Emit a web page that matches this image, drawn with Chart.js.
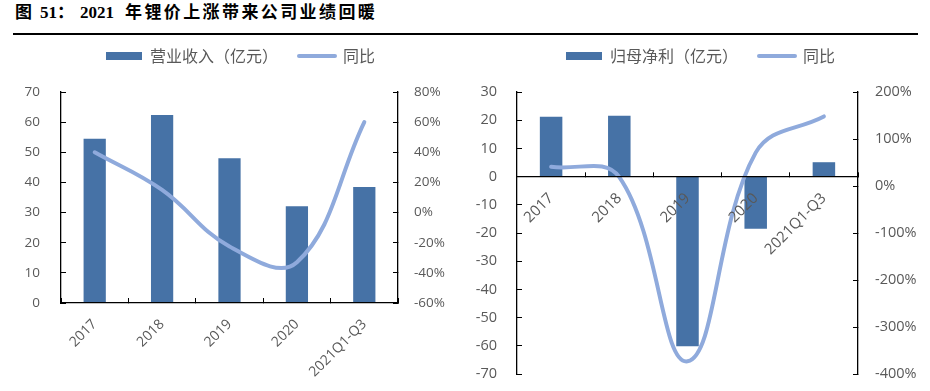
<!DOCTYPE html>
<html><head><meta charset="utf-8">
<script src="https://cdn.jsdelivr.net/npm/chart.js@4.4.1/dist/chart.umd.min.js"></script>
<style>
html,body{margin:0;padding:0;background:#fff;}
body{width:930px;height:391px;position:relative;overflow:hidden;}
.t{position:absolute;top:3px;line-height:20px;font-weight:bold;font-size:17px;font-family:"Liberation Serif","Noto Sans CJK SC",serif;color:#000;white-space:nowrap;}
#rule{position:absolute;left:13px;top:33px;width:905px;height:2px;background:#000;}
.box{position:absolute;top:25px;width:465px;height:366px;}
#b1{left:0}
#b2{left:465px}
</style></head><body>
<div id="title">
<span class="t" style="left:15px">图</span><span class="t" style="left:40px">51：</span><span class="t" style="left:80px">2021</span><span class="t" style="left:125px;letter-spacing:2.4px">年锂价上涨带来公司业绩回暖</span>
</div>
<div id="rule"></div>
<div class="box" id="b1"><canvas id="c1"></canvas></div>
<div class="box" id="b2"><canvas id="c2"></canvas></div>
<script>
// ---- data ----
const categories = ['2017', '2018', '2019', '2020', '2021Q1-Q3'];
const revenue = [54.5, 62.4, 48.0, 32.1, 38.5];
const revenueYoY = [40, 15, -22.5, -33, 60];
const netProfit = [21.2, 21.6, -60.2, -18.5, 5.1];
const netProfitYoY = [41, 19, -373, 71, 148];
const revenueTicks = [0, 10, 20, 30, 40, 50, 60, 70];
const revenueYoYTicks = [-60, -40, -20, 0, 20, 40, 60, 80];
const profitTicks = [-70, -60, -50, -40, -30, -20, -10, 0, 10, 20, 30];
const profitYoYTicks = [-400, -300, -200, -100, 0, 100, 200];
const legendRevenue = '营业收入（亿元）';
const legendProfit = '归母净利（亿元）';
const legendYoY = '同比';

// ---- style ----
const BAR = '#4672A6';
const LINE = '#8FAADC';
const AXIS = '#000000';
const TICK = '#595959';
const FONT = '"Open Sans", "Liberation Sans", sans-serif';
const FONT_CJK = '"Noto Sans CJK SC", sans-serif';

function noPad(s) { s.paddingTop = 0; s.paddingBottom = 0; s.paddingLeft = 0; s.paddingRight = 0; }

function makeChart(id, cfg) {
  const yFont = {family: FONT, size: cfg.yFont};
  const xFont = {family: FONT, size: cfg.xFont};
  return new Chart(document.getElementById(id), {
    data: {
      labels: categories,
      datasets: [
        {type: 'bar', label: cfg.barLabel, data: cfg.bar, yAxisID: 'y',
         backgroundColor: BAR, borderWidth: 0, barPercentage: 0.33, categoryPercentage: 1, order: 1},
        {type: 'line', label: cfg.lineLabel, data: cfg.line, yAxisID: 'y1',
         borderColor: LINE, backgroundColor: LINE, borderWidth: 4, borderCapStyle: 'round',
         pointRadius: 0, pointHoverRadius: 0, tension: cfg.tension, order: 0, clip: false}
      ]
    },
    options: {
      responsive: true, maintainAspectRatio: false, animation: false,
      events: [],
      layout: {padding: {left: cfg.padL, right: cfg.padR, top: 2, bottom: cfg.padB}},
      plugins: {
        legend: {
          position: 'top',
          labels: {
            usePointStyle: true, pointStyleWidth: 36, boxHeight: 8, padding: 21,
            color: TICK, font: {family: FONT_CJK, size: 16},
            generateLabels: chart => chart.data.datasets.map((ds, i) => ({
              text: ds.label,
              fillStyle: ds.type === 'bar' ? BAR : LINE,
              strokeStyle: ds.type === 'bar' ? BAR : LINE,
              lineWidth: ds.type === 'bar' ? 0 : 4,
              lineCap: 'round',
              pointStyle: ds.type === 'bar' ? 'rect' : 'line',
              hidden: false, datasetIndex: i, fontColor: TICK
            }))
          }
        },
        title: {display: true, text: '', weight: 500, position: 'top', padding: 0, font: {size: 18, lineHeight: 1}},
        tooltip: {enabled: false}
      },
      scales: {
        x: {
          axis: 'x', type: 'category', offset: true, position: cfg.xPos,
          grid: {display: true, drawOnChartArea: false, drawTicks: true, tickLength: -5, color: AXIS, offset: true, lineWidth: 1, z: 1},
          border: {display: true, color: AXIS, width: 1.3, z: 1},
          ticks: {minRotation: 45, maxRotation: 45, autoSkip: false, color: TICK, font: xFont, padding: cfg.xPad, z: 1},
          afterFit: s => { s.height = cfg.xH; noPad(s); }
        },
        y: {
          position: 'left', min: cfg.yTicks[0], max: cfg.yTicks[cfg.yTicks.length - 1],
          afterBuildTicks: s => { s.ticks = cfg.yTicks.map(v => ({value: v})); },
          grid: {drawOnChartArea: false, drawTicks: true, tickLength: -5, color: AXIS},
          border: {display: true, color: AXIS, width: 1.3},
          ticks: {color: TICK, font: yFont, padding: cfg.yPad},
          afterFit: s => { s.width = cfg.yW; noPad(s); }
        },
        y1: {
          position: 'right', min: cfg.y1Ticks[0], max: cfg.y1Ticks[cfg.y1Ticks.length - 1],
          afterBuildTicks: s => { s.ticks = cfg.y1Ticks.map(v => ({value: v})); },
          grid: {drawOnChartArea: false, drawTicks: true, tickLength: -5, color: AXIS},
          border: {display: true, color: AXIS, width: 1.3},
          ticks: {color: TICK, font: yFont, padding: cfg.y1Pad, callback: v => v + '%'},
          afterFit: s => { s.width = cfg.y1W; noPad(s); }
        }
      }
    }
  });
}

makeChart('c1', {
  bar: revenue, line: revenueYoY, barLabel: legendRevenue, lineLabel: legendYoY,
  yTicks: revenueTicks, y1Ticks: revenueYoYTicks, tension: 0.4,
  padL: 16, padR: 0, padB: 0, xPos: 'bottom', xH: 88, xPad: 18,
  yW: 45, yPad: 26, y1W: 67, y1Pad: 21, yFont: 13.5, xFont: 14
});
makeChart('c2', {
  bar: netProfit, line: netProfitYoY, barLabel: legendProfit, lineLabel: legendYoY,
  yTicks: profitTicks, y1Ticks: profitYoYTicks, tension: 0.4,
  padL: 6, padR: 0, padB: 17, xPos: {y: 0}, xH: 0, xPad: 18,
  yW: 46, yPad: 25, y1W: 72, y1Pad: 22, yFont: 14.5, xFont: 15
});
</script>
</body></html>
